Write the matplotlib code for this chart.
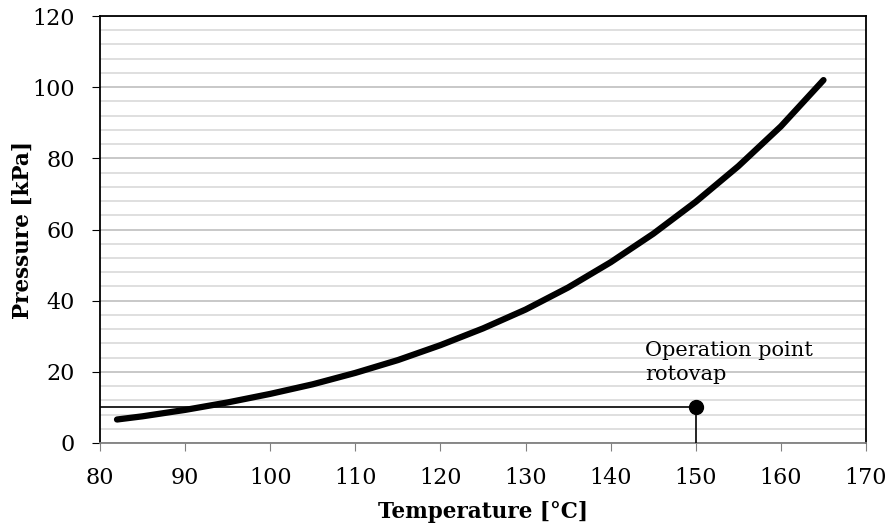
import numpy as np
import matplotlib.pyplot as plt

# Dampfdruckkurve
temperatur = [82, 85, 90, 95, 100, 105, 110, 115, 120, 125, 130, 135, 140, 145, 150, 155, 160, 165]
druck = [6.6, 7.5, 9.3, 11.4, 13.8, 16.5, 19.7, 23.3, 27.5, 32.2, 37.5, 43.7, 50.8, 58.8, 67.8, 77.8, 89.0, 102.0]

# Betriebspunkt
op_t = 150
op_p = 10

plt.rcParams['font.family'] = ['DejaVu Serif']

fig = plt.figure(figsize=(8.91, 5.27), dpi=100)
ax = fig.add_axes([0.1122, 0.1594, 0.8598, 0.8102])

ax.set_xlim(80, 170)
ax.set_ylim(0, 120)
ax.set_xticks(np.arange(80, 171, 10))
ax.set_yticks(np.arange(0, 121, 20))
ax.set_yticks(np.arange(0, 121, 4), minor=True)
ax.tick_params(axis='y', which='minor', length=0)

ax.grid(True, axis='y', which='minor', color='#d9d9d9', linewidth=1.2)
ax.grid(True, axis='y', which='major', color='#bfbfbf', linewidth=1.2)
ax.set_axisbelow(True)

ax.plot(temperatur, druck, color='black', linewidth=4.5, solid_capstyle='round',
        solid_joinstyle='round', zorder=3)

ax.plot([80, op_t], [op_p, op_p], color='black', linewidth=1.2, zorder=3)
ax.plot([op_t, op_t], [0, op_p], color='black', linewidth=1.2, zorder=3)
ax.plot(op_t, op_p, 'o', color='black', markersize=10, zorder=4)
ax.text(144.0, 16.6, "Operation point\nrotovap", fontsize=15, ha='left', va='bottom', linespacing=1.35)

for s in ['top', 'right', 'left']:
    ax.spines[s].set_color('black')
    ax.spines[s].set_linewidth(1.3)
ax.spines['bottom'].set_color('#808080')
ax.spines['bottom'].set_linewidth(1.3)

ax.tick_params(axis='both', which='major', direction='out', length=6, labelsize=16)
ax.tick_params(axis='x', colors='#808080', labelcolor='black', pad=11)
ax.tick_params(axis='y', pad=12)

ax.set_xlabel("Temperature [°C]", fontsize=15.5, fontweight='bold', labelpad=9)
ax.set_ylabel("Pressure [kPa]", fontsize=15.5, fontweight='bold', labelpad=-1)

fig.savefig("out.png", dpi=100)
